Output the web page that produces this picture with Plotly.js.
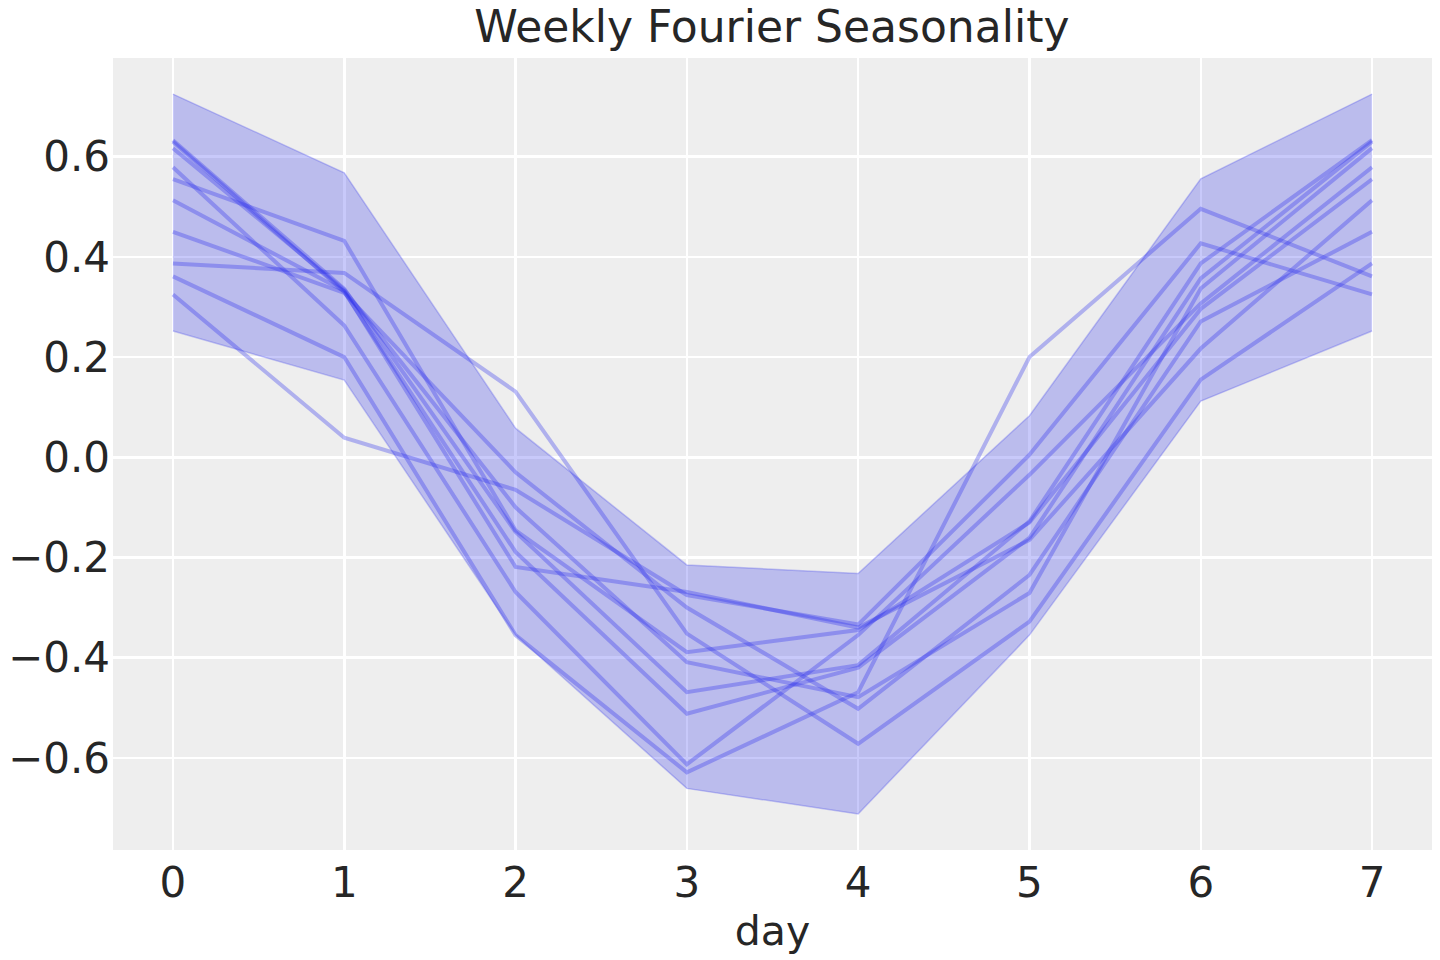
<!DOCTYPE html>
<html>
<head>
<meta charset="utf-8">
<script src="https://cdn.plot.ly/plotly-3.0.1.min.js"></script>
<style>
  html, body { margin: 0; padding: 0; background: #ffffff; }
  #chart { width: 1440px; height: 960px; }
</style>
</head>
<body>
<div id="chart"></div>
<script>
// day of week, 0..7 (7 wraps back to 0)
var days = [0, 1, 2, 3, 4, 5, 6, 7];

// HDI band
var bandUpper = [0.725, 0.568, 0.058, -0.215, -0.232, 0.083, 0.556, 0.725];
var bandLower = [0.252, 0.154, -0.355, -0.661, -0.712, -0.355, 0.112, 0.252];

// posterior sample curves
var sample1  = [0.633, 0.336, -0.149, -0.469, -0.415, -0.128, 0.387, 0.633];
var sample2  = [0.630, 0.330, -0.189, -0.512, -0.420, -0.161, 0.357, 0.630];
var sample3  = [0.617, 0.334, -0.100, -0.409, -0.479, -0.271, 0.337, 0.617];
var sample4  = [0.579, 0.263, -0.269, -0.613, -0.355, -0.035, 0.307, 0.579];
var sample5  = [0.555, 0.432, -0.146, -0.389, -0.345, -0.130, 0.296, 0.555];
var sample6  = [0.513, 0.332, -0.219, -0.269, -0.340, -0.165, 0.217, 0.513];
var sample7  = [0.450, 0.328, -0.030, -0.300, -0.502, -0.235, 0.271, 0.450];
var sample8  = [0.387, 0.368, 0.131, -0.352, -0.572, -0.328, 0.155, 0.387];
var sample9  = [0.361, 0.200, -0.355, -0.629, -0.469, 0.200, 0.496, 0.361];
var sample10 = [0.325, 0.039, -0.065, -0.275, -0.334, 0.005, 0.427, 0.325];

var samples = [sample1, sample2, sample3, sample4, sample5,
               sample6, sample7, sample8, sample9, sample10];

var blue = '42,46,236';
var txt = '#262626';
var font = 'DejaVu Sans, sans-serif';

var data = [
  {
    x: days, y: bandLower, type: 'scatter', mode: 'lines',
    line: {color: 'rgba(' + blue + ',0.25)', width: 1.5},
    hoverinfo: 'skip', showlegend: false
  },
  {
    x: days, y: bandUpper, type: 'scatter', mode: 'lines',
    fill: 'tonexty', fillcolor: 'rgba(' + blue + ',0.26)',
    line: {color: 'rgba(' + blue + ',0.25)', width: 1.5},
    hoverinfo: 'skip', showlegend: false
  }
];

samples.forEach(function (s) {
  data.push({
    x: days, y: s, type: 'scatter', mode: 'lines',
    line: {color: 'rgba(' + blue + ',0.32)', width: 4},
    showlegend: false
  });
});

var layout = {
  width: 1440,
  height: 960,
  paper_bgcolor: '#ffffff',
  plot_bgcolor: '#eeeeee',
  margin: {l: 113, r: 8, t: 58, b: 110},
  font: {family: font, color: txt},
  title: {
    text: 'Weekly Fourier Seasonality',
    font: {family: font, size: 44, color: txt},
    x: 0.536, xanchor: 'center',
    y: 0.972, yanchor: 'middle', yref: 'container'
  },
  xaxis: {
    range: [-0.35, 7.35],
    tickvals: days,
    ticktext: days.map(String),
    tickfont: {size: 42, color: txt},
    ticks: '',
    ticklabelstandoff: 4,
    showgrid: true,
    gridcolor: '#ffffff',
    gridwidth: 2.5,
    zeroline: false,
    showline: false,
    title: {text: 'day', font: {size: 41, color: txt}, standoff: 10}
  },
  yaxis: {
    range: [-0.784, 0.797],
    tickvals: [-0.6, -0.4, -0.2, 0, 0.2, 0.4, 0.6],
    tickformat: '.1f',
    tickfont: {size: 42, color: txt},
    ticks: '',
    ticklabelstandoff: 2,
    showgrid: true,
    gridcolor: '#ffffff',
    gridwidth: 2.5,
    zeroline: false,
    showline: false
  }
};

Plotly.newPlot('chart', data, layout, {displayModeBar: false, staticPlot: true});
</script>
</body>
</html>
